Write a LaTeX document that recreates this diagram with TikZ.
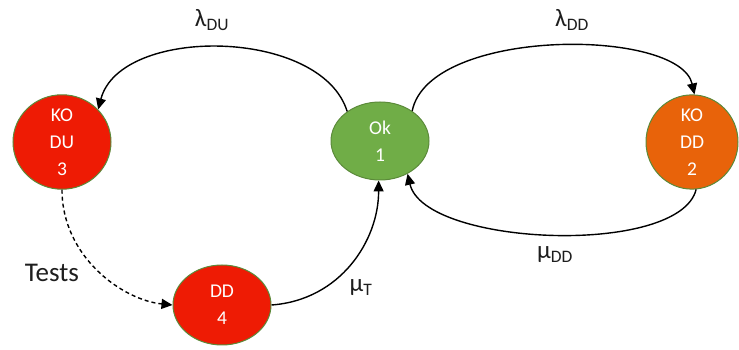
\documentclass[tikz,border=0pt]{standalone}
\usepackage{fontspec}
\setmainfont{Carlito}
\usetikzlibrary{arrows.meta,shapes.geometric}
\definecolor{stred}{HTML}{EE1B04}
\definecolor{stgreen}{HTML}{70AD47}
\definecolor{storange}{HTML}{E8630A}
\definecolor{stedge}{HTML}{5B8A3A}
\definecolor{lbl}{HTML}{1E1E1E}
\begin{document}
\begin{tikzpicture}[x=1pt,y=1pt,
  state/.style={ellipse, draw=stedge, line width=1pt, text=white, align=center,
    inner sep=0pt, font=\fontsize{19.5}{27}\selectfont},
  trans/.style={line width=1.4pt, -{Triangle[length=11pt,width=10pt]}},
  rate/.style={text=lbl, font=\fontsize{25}{25}\selectfont, inner sep=0pt}]
\useasboundingbox (0,0) rectangle (739,350);

% states
\node[state, fill=stred, minimum width=98pt, minimum height=81pt] (ko3) at (62,208) {KO\\DU\\3};
\node[state, fill=stgreen, minimum width=98pt, minimum height=78pt] (ok) at (380,209) {Ok\\1};
\node[state, fill=storange, minimum width=92pt, minimum height=86pt] (ko2) at (692,208) {KO\\DD\\2};
\node[state, fill=stred, minimum width=98pt, minimum height=80pt] (dd4) at (222,45) {DD\\4};

% transitions
\draw[trans] (ok.138) .. controls +(-26,84) and +(22,84) .. (ko3.42);
\draw[trans] (ok.43) .. controls +(17,84) and +(-15,67) .. (ko2.87);
\draw[trans] (ko2.275) .. controls +(-17,-67.5) and +(17,-72.5) .. (ok.310);
\draw[trans] (dd4.east) .. controls +(69,5) and +(0,-60) .. (ok.268);
\draw[trans, dashed, dash pattern=on 4pt off 3pt] (ko3.south) .. controls +(0,-67) and +(-50,5) .. (dd4.west);

% rates
\node[rate] (lDU) at (212,330) {λ\textsubscript{DU}};
\node[rate] (lDD) at (572,330) {λ\textsubscript{DD}};
\node[rate] (mDD) at (555,95) {μ\textsubscript{DD}};
\node[rate] (mT) at (361,62) {μ\textsubscript{T}};
\node[rate, font=\fontsize{27}{27}\selectfont] (tests) at (52,77) {Tests};
\end{tikzpicture}
\end{document}
